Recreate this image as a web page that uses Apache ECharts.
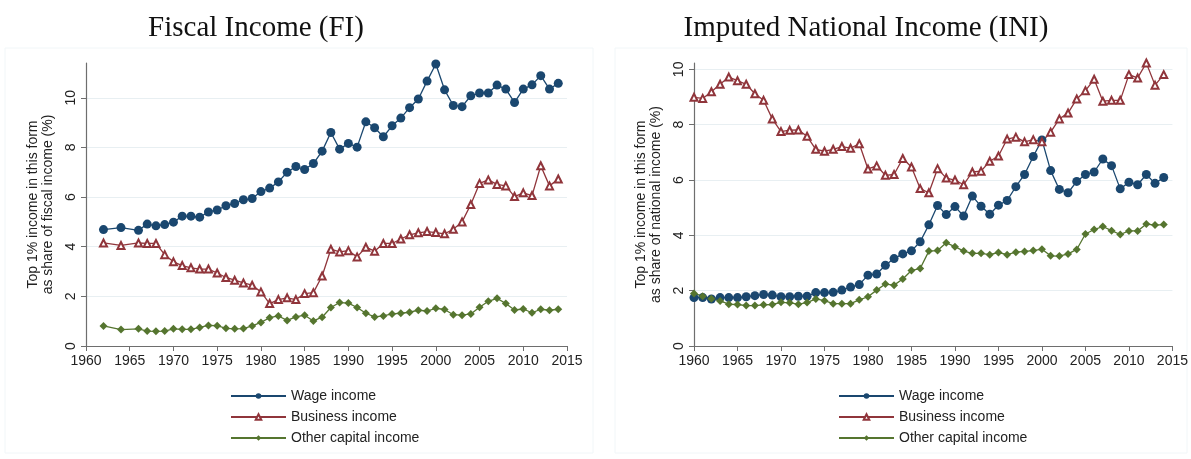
<!DOCTYPE html>
<html>
<head>
<meta charset="utf-8">
<script src="https://cdn.jsdelivr.net/npm/echarts@6/dist/echarts.min.js"></script>
<style>
html, body { margin: 0; background: #fff; }
#main { width: 1191px; height: 459px; }
</style>
</head>
<body>
<div id="main"></div>
<script>
// Fiscal income (FI) panel
const fiYears = [1962, 1964, 1966, 1967, 1968, 1969, 1970, 1971, 1972, 1973, 1974, 1975, 1976, 1977, 1978, 1979,
    1980, 1981, 1982, 1983, 1984, 1985, 1986, 1987, 1988, 1989, 1990, 1991, 1992, 1993, 1994, 1995, 1996, 1997, 1998, 1999,
    2000, 2001, 2002, 2003, 2004, 2005, 2006, 2007, 2008, 2009, 2010, 2011, 2012, 2013, 2014];
const fiWage = [4.69, 4.77, 4.66, 4.91, 4.84, 4.89, 4.99, 5.23, 5.23, 5.19, 5.40, 5.48, 5.65, 5.74, 5.89, 5.94,
    6.22, 6.36, 6.61, 7.00, 7.23, 7.11, 7.35, 7.85, 8.60, 7.93, 8.16, 8.01, 9.03, 8.79, 8.43, 8.87, 9.18, 9.60, 9.95, 10.67,
    11.36, 10.32, 9.69, 9.64, 10.08, 10.19, 10.19, 10.51, 10.35, 9.81, 10.35, 10.52, 10.89, 10.35, 10.58];
const fiBusiness = [4.15, 4.05, 4.15, 4.13, 4.13, 3.68, 3.39, 3.24, 3.15, 3.10, 3.10, 2.94, 2.76, 2.65, 2.54, 2.45,
    2.18, 1.71, 1.87, 1.94, 1.87, 2.11, 2.15, 2.82, 3.90, 3.79, 3.84, 3.59, 3.98, 3.82, 4.13, 4.13, 4.31, 4.48, 4.56, 4.61,
    4.57, 4.52, 4.70, 5.00, 5.70, 6.55, 6.69, 6.51, 6.45, 6.02, 6.17, 6.06, 7.26, 6.45, 6.73];
const fiOther = [0.81, 0.66, 0.69, 0.60, 0.59, 0.60, 0.69, 0.67, 0.67, 0.75, 0.83, 0.82, 0.71, 0.69, 0.70, 0.81,
    0.95, 1.14, 1.21, 1.03, 1.17, 1.24, 1.01, 1.16, 1.55, 1.75, 1.73, 1.55, 1.32, 1.17, 1.21, 1.29, 1.32, 1.36, 1.44, 1.41,
    1.52, 1.47, 1.26, 1.24, 1.29, 1.56, 1.80, 1.92, 1.71, 1.45, 1.49, 1.34, 1.48, 1.44, 1.48];

// Imputed national income (INI) panel
const iniYears = [1960, 1961, 1962, 1963, 1964, 1965, 1966, 1967, 1968, 1969, 1970, 1971, 1972, 1973, 1974, 1975, 1976, 1977, 1978, 1979,
    1980, 1981, 1982, 1983, 1984, 1985, 1986, 1987, 1988, 1989, 1990, 1991, 1992, 1993, 1994, 1995, 1996, 1997, 1998, 1999,
    2000, 2001, 2002, 2003, 2004, 2005, 2006, 2007, 2008, 2009, 2010, 2011, 2012, 2013, 2014];
const iniWage = [1.75, 1.75, 1.70, 1.75, 1.75, 1.75, 1.78, 1.82, 1.86, 1.84, 1.78, 1.78, 1.80, 1.80, 1.93, 1.93, 1.94, 2.02, 2.13, 2.22,
    2.56, 2.60, 2.92, 3.16, 3.33, 3.44, 3.77, 4.38, 5.08, 4.75, 5.04, 4.70, 5.42, 5.05, 4.76, 5.09, 5.26, 5.76, 6.20, 6.85,
    7.45, 6.34, 5.66, 5.54, 5.95, 6.20, 6.29, 6.76, 6.52, 5.68, 5.92, 5.83, 6.20, 5.88, 6.09];
const iniBusiness = [8.99, 8.95, 9.19, 9.46, 9.72, 9.59, 9.46, 9.12, 8.88, 8.21, 7.75, 7.80, 7.81, 7.58, 7.11, 7.04, 7.11, 7.21, 7.15, 7.31,
    6.40, 6.51, 6.17, 6.20, 6.78, 6.47, 5.69, 5.54, 6.41, 6.07, 6.00, 5.83, 6.29, 6.32, 6.68, 6.87, 7.48, 7.55, 7.38, 7.46,
    7.38, 7.73, 8.21, 8.42, 8.93, 9.23, 9.64, 8.85, 8.88, 8.88, 9.81, 9.69, 10.23, 9.43, 9.81];
const iniOther = [1.90, 1.80, 1.71, 1.63, 1.51, 1.50, 1.46, 1.46, 1.49, 1.50, 1.58, 1.56, 1.51, 1.57, 1.70, 1.64, 1.53, 1.53, 1.53, 1.67,
    1.78, 2.02, 2.24, 2.20, 2.42, 2.73, 2.80, 3.43, 3.45, 3.73, 3.59, 3.43, 3.35, 3.35, 3.30, 3.38, 3.30, 3.39, 3.42, 3.45,
    3.50, 3.26, 3.25, 3.33, 3.49, 4.05, 4.21, 4.32, 4.17, 4.03, 4.16, 4.16, 4.41, 4.37, 4.39];

const yTicks = [0, 2, 4, 6, 8, 10];
const seriesNames = ['Wage income', 'Business income', 'Other capital income'];

const FONT = '"Liberation Sans", Arial, sans-serif';
const BLUE = '#1a476f', RED = '#90353b', GREEN = '#55752f';
const AXIS = '#6e6e6e';

function pairs(xs, ys) {
    return xs.map((x, i) => [x, ys[i]]);
}

function xAxisFor(idx) {
    return {
        type: 'value', gridIndex: idx, min: 1960, max: 2015, interval: 5,
        axisLine: { lineStyle: { color: AXIS, width: 1.2 } },
        axisTick: { show: true, length: 5, lineStyle: { color: AXIS } },
        axisLabel: { color: '#222', fontFamily: FONT, fontSize: 14, margin: 8, formatter: v => String(v) },
        splitLine: { show: false }
    };
}

function yAxisFor(idx, max, name) {
    return {
        type: 'value', gridIndex: idx, min: 0, max: max,
        name: name, nameLocation: 'middle', nameGap: 30,
        nameTextStyle: { color: '#222', fontFamily: FONT, fontSize: 14, lineHeight: 15 },
        axisLine: { show: true, lineStyle: { color: AXIS, width: 1.2 } },
        axisTick: { show: true, length: 5, lineStyle: { color: AXIS }, customValues: yTicks },
        axisLabel: { color: '#222', fontFamily: FONT, fontSize: 14, rotate: 90, margin: 8, customValues: yTicks },
        splitLine: { show: true, showMinLine: false, lineStyle: { color: '#e8eff2', width: 1 } }
    };
}

function lineSeries(idx, name, data, color, symbol, size) {
    return {
        name: name, type: 'line', xAxisIndex: idx, yAxisIndex: idx,
        data: data, symbol: symbol, symbolSize: size, showAllSymbol: true, clip: false,
        lineStyle: { color: color, width: 1.3 },
        itemStyle: { color: color, borderWidth: symbol === 'emptyTriangle' ? 1.2 : 0 },
        emphasis: { disabled: true },
        animation: false
    };
}

function legendFor(left) {
    return {
        orient: 'vertical', left: left, top: 384,
        itemWidth: 55, itemHeight: 7, itemGap: 7,
        data: seriesNames,
        textStyle: { color: '#222', fontFamily: FONT, fontSize: 14, lineHeight: 13 }
    };
}

const chart = echarts.init(document.getElementById('main'), null, { renderer: 'canvas' });

chart.setOption({
    backgroundColor: '#fff',
    animation: false,
    graphic: [
        { type: 'rect', shape: { x: 5, y: 48, width: 588, height: 405 }, style: { fill: 'none', stroke: '#f1f6f8', lineWidth: 1 }, silent: true, z: -1 },
        { type: 'rect', shape: { x: 615, y: 48, width: 572, height: 405 }, style: { fill: 'none', stroke: '#f1f6f8', lineWidth: 1 }, silent: true, z: -1 },
        { type: 'text', x: 256, y: 28, style: { text: 'Fiscal Income (FI)', fill: '#111', font: '29px "Liberation Serif", "DejaVu Serif", serif', textAlign: 'center', textVerticalAlign: 'middle' } },
        { type: 'text', x: 866, y: 28, style: { text: 'Imputed National Income (INI)', fill: '#111', font: '29px "Liberation Serif", "DejaVu Serif", serif', textAlign: 'center', textVerticalAlign: 'middle' } }
    ],
    legend: [legendFor(225), legendFor(833)],
    grid: [
        { left: 86, right: 1191 - 567, top: 63, bottom: 113 },
        { left: 694, right: 16, top: 63, bottom: 113 }
    ],
    xAxis: [xAxisFor(0), xAxisFor(1)],
    yAxis: [
        yAxisFor(0, 11.4, 'Top 1% income in this form\nas share of fiscal income (%)'),
        yAxisFor(1, 10.23, 'Top 1% income in this form\nas share of national income (%)')
    ],
    series: [
        lineSeries(0, seriesNames[0], pairs(fiYears, fiWage), BLUE, 'circle', 9),
        lineSeries(0, seriesNames[1], pairs(fiYears, fiBusiness), RED, 'emptyTriangle', 7),
        lineSeries(0, seriesNames[2], pairs(fiYears, fiOther), GREEN, 'diamond', 8),
        lineSeries(1, seriesNames[0], pairs(iniYears, iniWage), BLUE, 'circle', 9),
        lineSeries(1, seriesNames[1], pairs(iniYears, iniBusiness), RED, 'emptyTriangle', 7),
        lineSeries(1, seriesNames[2], pairs(iniYears, iniOther), GREEN, 'diamond', 8)
    ]
});
</script>
</body>
</html>
